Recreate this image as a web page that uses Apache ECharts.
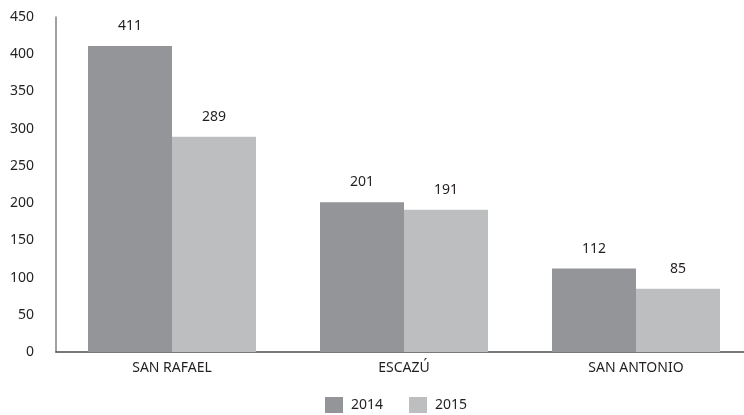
<!DOCTYPE html>
<html><head><meta charset="utf-8">
<script src="https://cdn.jsdelivr.net/npm/echarts@6/dist/echarts.min.js"></script>
<style>html,body{margin:0;padding:0;background:#fff}#c{width:744px;height:415px}</style>
</head><body><div id="c"></div>
<script>
const categories = ['SAN RAFAEL', 'ESCAZÚ', 'SAN ANTONIO'];
const values2014 = [411, 201, 112];
const values2015 = [289, 191, 85];
const seriesNames = ['2014', '2015'];
const font = 'Noto Sans';
const chart = echarts.init(document.getElementById('c'));
chart.setOption({
  animation: false,
  textStyle: { fontFamily: font },
  grid: { left: 56, width: 696, top: 17, bottom: 63, outerBoundsMode: 'none', containLabel: false },
  legend: {
    bottom: 2, left: 325, padding: 0, itemWidth: 18, itemHeight: 16, itemGap: 26,
    icon: 'rect',
    textStyle: { fontFamily: font, fontSize: 14, color: '#231f20', padding: [0, 0, 0, 3] },
    data: seriesNames
  },
  xAxis: {
    type: 'category', data: categories,
    axisLine: { lineStyle: { color: '#4d4d4f', width: 1.5 } },
    axisTick: { show: false },
    axisLabel: { fontFamily: font, fontSize: 14, color: '#231f20', margin: 9 }
  },
  yAxis: {
    type: 'value', min: 0, max: 450, interval: 50,
    axisLine: { show: true, lineStyle: { color: '#808285', width: 1.5 } },
    axisTick: { show: false },
    splitLine: { show: false },
    axisLabel: { fontFamily: font, fontSize: 14, color: '#231f20', margin: 22, align: 'right' }
  },
  series: [
    { name: seriesNames[0], type: 'bar', data: values2014, barWidth: 84, barGap: '0%',
      itemStyle: { color: '#939598' },
      label: { show: true, position: 'top', distance: 13, fontFamily: font, fontSize: 14, color: '#231f20' } },
    { name: seriesNames[1], type: 'bar', data: values2015, barWidth: 84,
      itemStyle: { color: '#bcbec0' },
      label: { show: true, position: 'top', distance: 13, fontFamily: font, fontSize: 14, color: '#231f20' } }
  ]
});
</script></body></html>
